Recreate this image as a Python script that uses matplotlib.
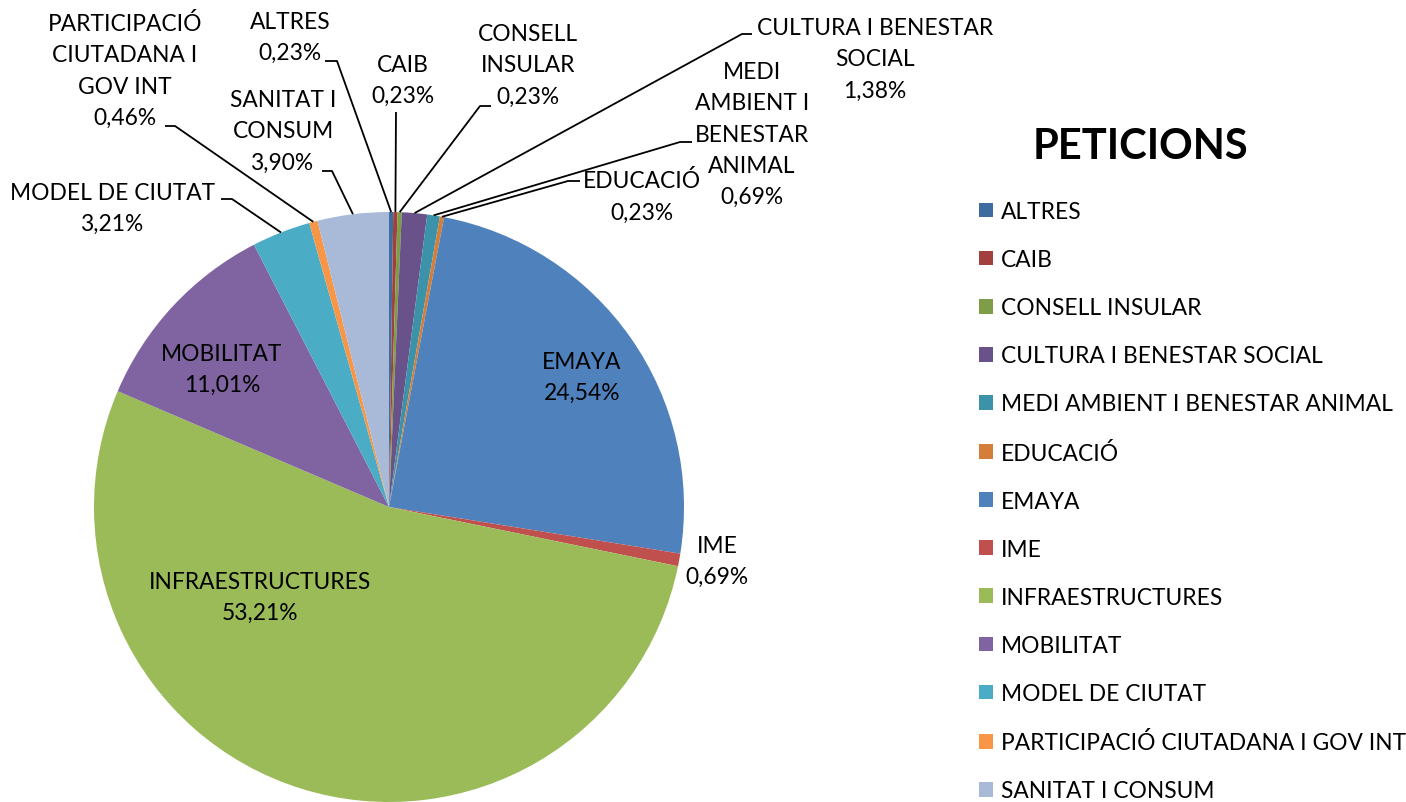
import numpy as np
import matplotlib.pyplot as plt

categories = ['ALTRES', 'CAIB', 'CONSELL INSULAR', 'CULTURA I BENESTAR SOCIAL',
              'MEDI AMBIENT I BENESTAR ANIMAL', 'EDUCACIÓ', 'EMAYA', 'IME',
              'INFRAESTRUCTURES', 'MOBILITAT', 'MODEL DE CIUTAT',
              'PARTICIPACIÓ CIUTADANA I GOV INT', 'SANITAT I CONSUM']
shares = [0.23, 0.23, 0.23, 1.38, 0.69, 0.23, 24.54, 0.69, 53.21, 11.01, 3.21, 0.46, 3.90]
colors = ['#3F6CA0', '#A1403D', '#7F9C47', '#69518A', '#3C92A8', '#D57E3A',
          '#4F81BD', '#C0504D', '#9BBB59', '#8064A2', '#4BACC6', '#F79646', '#A9B9D8']
# wrapped label text as it appears on the chart
label_text = ['ALTRES', 'CAIB', 'CONSELL\nINSULAR', 'CULTURA I BENESTAR\nSOCIAL',
              'MEDI\nAMBIENT I\nBENESTAR\nANIMAL', 'EDUCACIÓ', 'EMAYA', 'IME',
              'INFRAESTRUCTURES', 'MOBILITAT', 'MODEL DE CIUTAT',
              'PARTICIPACIÓ\nCIUTADANA I\nGOV INT', 'SANITAT I\nCONSUM']

W, H = 1406, 803
plt.rcParams['font.family'] = ['Lato', 'DejaVu Sans']
FS = 16.4

fig = plt.figure(figsize=(W / 100, H / 100), dpi=100)
ax = fig.add_axes([0, 0, 1, 1])

cx, cy, R = 389, H - 508, 295
wedges, _ = ax.pie(shares, colors=colors, startangle=90, counterclock=False,
                   radius=R, center=(cx, cy), frame=True,
                   wedgeprops=dict(linewidth=0))
ax.set_xlim(0, W)
ax.set_ylim(0, H)
ax.set_aspect('equal')
ax.axis('off')

# label layout in pixel coords (x, y from top), and knee of leader line (None = inside)
layout = {
    'ALTRES': ((290, 38), [(325, 62), (337, 62)]),
    'CAIB': ((403, 81), [(396, 113)]),
    'CONSELL INSULAR': ((528, 66), [(491, 107), (480, 107)]),
    'CULTURA I BENESTAR SOCIAL': ((875, 60), [(752, 35), (742, 35)]),
    'MEDI AMBIENT I BENESTAR ANIMAL': ((752, 135), [(692, 143), (680, 143)]),
    'EDUCACIÓ': ((642, 197), [(580, 182), (568, 182)]),
    'EMAYA': ((582, 378), None),
    'IME': ((717, 562), None),
    'INFRAESTRUCTURES': ((260, 598), None),
    'MOBILITAT': ((222, 370), None),
    'MODEL DE CIUTAT': ((113, 209), [(221, 200), (232, 200)]),
    'PARTICIPACIÓ CIUTADANA I GOV INT': ((125, 71), [(165, 127), (175, 127)]),
    'SANITAT I CONSUM': ((283, 132), [(322, 172), (332, 172)]),
}

for w, cat, txt, val in zip(wedges, categories, label_text, shares):
    (lx, ly), knee = layout[cat]
    s = txt + '\n' + f'{val:.2f}'.replace('.', ',') + '%'
    ax.text(lx, H - ly, s, ha='center', va='center', multialignment='center',
            fontsize=FS, linespacing=1.6, color='black')
    if knee:
        mid = np.deg2rad((w.theta1 + w.theta2) / 2)
        ex, ey = cx + R * np.cos(mid), cy + R * np.sin(mid)
        xs = [p[0] for p in knee] + [ex]
        ys = [H - p[1] for p in knee] + [ey]
        ax.plot(xs, ys, color='black', lw=1.3, solid_capstyle='butt')

fig.text(1140 / W, 1 - 147 / H, 'PETICIONS', ha='center', va='center',
         fontsize=30, fontweight='bold')

leg = fig.legend(wedges, categories, loc='upper left', bbox_to_anchor=(979 / W, 1 - 202 / H),
                 frameon=False, fontsize=FS, handlelength=0.62, handleheight=0.62,
                 handletextpad=0.35, labelspacing=1.19, borderaxespad=0, borderpad=0)

fig.savefig('out.png', dpi=100)
